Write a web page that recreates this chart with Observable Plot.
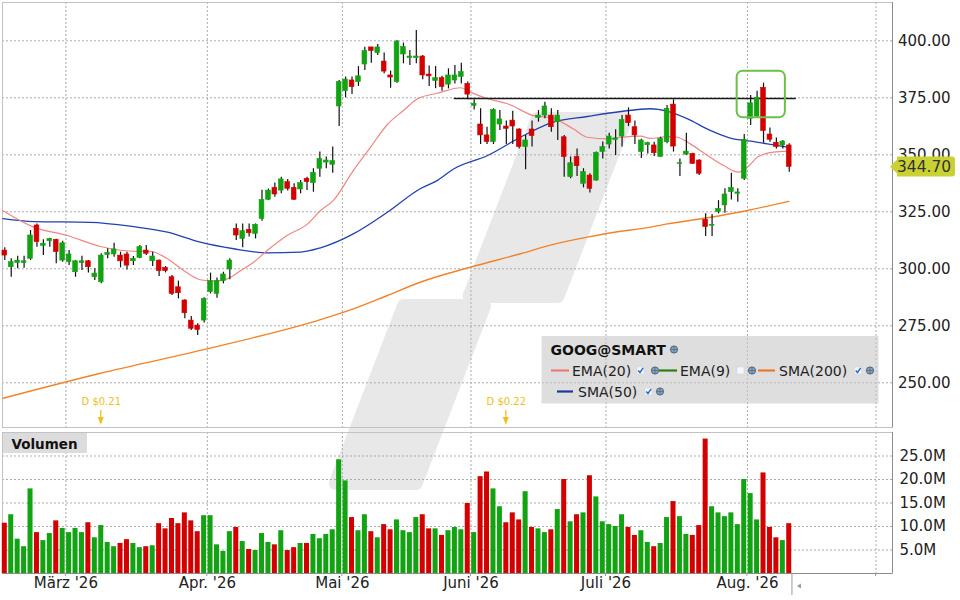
<!DOCTYPE html>
<html><head><meta charset="utf-8">
<script src="https://cdn.jsdelivr.net/npm/d3@7"></script>
<script src="https://cdn.jsdelivr.net/npm/@observablehq/plot@0.6"></script>
<style>
html,body{margin:0;padding:0;background:#fff;}
#wrap{position:relative;width:960px;height:600px;overflow:hidden;font-family:"DejaVu Sans",Verdana,sans-serif;}
#wrap > svg{position:absolute;left:0;}
</style></head><body><div id="wrap"></div>
<script>
// ---------- data ----------
const open = [308.0,300.7,302.5,302.5,304.4,319.0,310.1,312.1,312.7,303.6, 302.9,298.5,302.5,303.3,296.3,294.1,306.1,306.3,305.8,306.3, 303.3,304.8,308.0,303.3,303.6,300.4,296.3,291.9,286.1,277.3, 275.1,277.3,289.8,289.0,294.6,299.7,317.5,313.1,317.1,315.3, 321.9,330.3,335.5,334.3,338.0,335.5,334.8,339.5,337.6,343.9, 346.6,345.6,371.2,377.9,382.6,381.9,389.6,397.1,394.6,390.9, 384.8,381.9,394.0,392.4,392.4,393.1,385.2,382.3,383.6,380.8, 382.6,384.1,381.1,371.5,363.3,358.5,355.6,363.3,362.4,365.0, 361.1,353.4,361.1,366.2,367.2,367.2,364.3,357.7,340.2,349.0, 337.3,340.9,338.7,351.2,354.5,356.5,358.0,367.2,362.1,351.2, 354.2,354.1,349.0,355.5,372.0,346.0,350.1,350.4,347.5,321.5, 318.9,324.9,327.8,333.6,332.9,339.5,365.8,366.8,379.4,358.9, 355.3,354.1,354.1];
const high = [309.2,304.4,305.5,305.5,316.8,319.7,312.7,313.4,313.0,312.1, 308.0,303.6,305.5,303.6,300.0,306.6,308.8,311.2,307.3,307.3, 305.4,310.2,310.2,307.3,303.9,301.0,297.1,294.6,286.4,279.1, 275.9,287.3,298.1,296.0,298.5,304.4,319.7,319.7,319.7,319.7, 334.5,335.0,337.6,340.2,339.2,337.3,338.7,340.2,343.9,351.2, 349.0,353.4,382.6,384.1,384.1,388.7,397.2,397.2,398.4,394.6, 386.7,400.1,399.0,395.7,404.5,393.6,388.9,388.7,384.4,387.7, 389.2,390.2,381.9,374.1,370.2,362.1,370.2,369.4,364.8,369.1, 361.4,358.5,364.8,369.4,373.1,370.2,369.4,358.5,349.0,352.6, 343.9,341.7,351.2,355.6,359.5,361.0,367.2,370.6,364.8,356.8, 355.5,355.5,357.7,371.6,374.1,348.2,359.5,350.7,347.8,324.1, 323.8,329.9,335.1,341.9,335.1,358.9,376.0,377.9,381.4,361.8, 357.4,356.3,354.8];
const low = [303.6,296.3,300.0,300.3,303.6,309.5,305.8,309.5,302.2,302.9, 301.4,296.3,299.3,298.2,294.9,293.4,304.4,305.1,300.4,299.5, 301.4,304.4,305.8,301.0,296.6,298.2,288.3,286.8,278.1,272.9, 270.7,276.2,289.0,287.1,293.4,295.2,312.4,309.2,313.9,313.1, 320.9,329.9,331.4,332.9,334.1,330.0,332.9,334.4,333.6,340.2, 343.9,341.9,362.4,375.0,376.4,380.0,387.0,390.2,393.6,385.5, 379.2,381.4,389.9,389.2,389.9,382.9,380.0,379.0,377.9,378.9, 381.1,381.1,374.1,369.7,354.5,354.5,354.5,360.7,354.5,354.5, 352.6,343.4,353.4,364.3,365.8,359.9,356.3,340.2,339.5,340.5, 335.5,333.2,338.4,348.2,352.6,349.7,353.4,362.4,354.5,348.4, 350.4,349.3,349.0,354.8,351.2,340.5,349.7,345.7,340.9,314.2, 314.2,324.1,324.4,330.2,329.2,338.7,362.8,366.5,355.1,355.5, 352.6,352.6,342.4];
const close = [305.8,302.9,303.6,303.3,314.6,311.7,311.0,313.1,307.3,311.2, 306.3,303.3,303.3,300.7,297.9,305.8,307.0,308.5,303.3,301.4, 304.4,309.5,306.6,305.4,299.0,299.0,289.0,289.3,280.5,273.7, 273.2,286.8,294.6,294.6,297.5,303.6,314.6,316.5,315.6,319.3, 330.2,334.3,332.6,339.2,335.1,330.3,337.6,338.0,342.1,348.2, 347.5,347.2,381.9,383.0,379.7,384.4,395.5,395.5,397.1,386.5, 383.9,399.6,397.2,393.1,393.1,384.8,384.4,383.6,379.7,384.8, 384.8,386.3,376.4,372.4,358.5,355.6,369.7,365.5,361.4,362.4, 353.4,356.3,358.2,367.2,371.2,362.1,367.2,349.0,346.3,345.0, 342.4,335.1,350.9,353.4,358.0,357.2,365.3,363.9,358.5,356.3, 355.1,350.7,357.0,370.2,353.6,346.3,351.4,346.0,341.7,318.3, 319.3,326.3,332.6,335.5,333.5,356.6,372.6,375.0,360.4,356.6, 353.4,355.8,344.7];
const volumeM = [10.7,12.5,7.3,5.7,18.0,8.7,7.0,8.5,11.2,9.6, 8.7,9.6,8.7,10.8,7.6,10.2,6.6,5.7,6.4,7.2, 6.4,5.5,5.7,5.9,10.6,9.5,11.7,10.6,12.9,11.2, 8.9,12.3,12.3,6.1,4.7,8.9,9.8,6.8,5.1,4.9, 8.5,6.6,6.1,9.1,4.9,5.5,6.4,6.4,8.3,7.4, 8.3,9.3,24.2,19.7,11.9,9.1,12.5,8.9,7.6,10.4, 9.3,11.4,9.1,8.7,11.9,12.5,9.5,9.5,8.1,9.1, 9.8,9.3,14.9,8.7,20.6,21.6,18.0,14.2,10.8,12.9, 11.4,17.4,9.8,9.5,8.7,9.3,13.6,20.0,11.0,12.5, 12.9,20.8,16.3,11.0,10.4,10.0,12.5,9.8,8.1,9.1, 6.6,5.7,6.4,11.9,15.3,12.1,8.3,8.1,10.2,28.6, 14.2,12.9,12.1,12.9,10.4,20.0,17.0,11.4,21.4,9.8, 7.6,7.0,10.6];

// moving averages read at sample bar positions: [bar index, value]
const ema20 = [[-0.3,325.5],[4.5,318.3],[9.7,314.6],[14.9,309.8],[20,307.7],[22.7,307.6],[25.3,304.4],[27.8,299.3],[30.4,295.2],[32.5,294.6],[34.6,295.6],[36.7,299.3],[38.7,302.9],[40.8,308.0],[43.9,314.6],[47.1,319.7],[49.1,325.6],[51.1,330.0],[54.2,343.1],[56.9,353.4],[59.5,363.3],[62.0,369.4],[64.2,374.6],[67.3,377.0],[70.9,379.4],[72.4,377.5],[75.1,374.6],[78.2,372.4],[82.2,367.2],[85.3,366.0],[88.4,361.4],[90.6,357.7],[93.7,357.0],[95.8,357.7],[98.9,358.2],[100.4,357.2],[103.1,358.0],[104.6,357.7],[106.6,354.8],[109.3,349.7],[111.8,345.3],[114.1,342.4],[115.5,344.6],[117.1,349.0],[119.5,351.2],[121.9,351.6]];
const sma50 = [[-0.3,322.0],[4.5,320.7],[13.3,320.4],[20.0,318.5],[25.3,316.1],[30.4,311.7],[35.6,308.8],[40.8,307.0],[46.0,307.3],[49.1,309.2],[54.2,315.3],[59.5,324.8],[64.6,335.1],[67.3,338.8],[69.8,343.8],[75.1,349.7],[80.2,357.7],[85.3,364.3],[90.6,366.8],[95.8,369.0],[100.4,370.2],[103.1,369.1],[106.2,365.8],[109.7,360.7],[113.3,357.0],[116.0,356.0],[118.6,354.8],[121.9,353.3]];
const sma200 = [[-0.3,243.2],[14.9,254.2],[30.4,264.2],[49.1,277.7],[54.2,282.4],[59.5,288.3],[64.6,294.1],[72.4,300.7],[80.2,306.6],[85.3,310.7],[90.6,313.9],[95.8,316.5],[99.0,317.6],[103.1,319.7],[109.3,322.4],[115.5,325.6],[121.9,329.6]];

const priceTicks = [250, 275, 300, 325, 350, 375, 400];
const volumeTicks = [5, 10, 15, 20, 25];
const monthTickIndex = [9.5, 31.5, 52.5, 72.5, 93.5, 115.5, 135.5];
const monthTickLabels = ["März '26", "Apr. '26", "Mai '26", "Juni '26", "Juli '26", "Aug. '26", ""];
const dividendIndex = [15, 78];
const dividendLabels = ["D $0.21", "D $0.22"];
const resistanceLevel = 374.7, resistanceFrom = 69.9, resistanceTo = 123.1;
const highlightBox = {x1: 113.9, x2: 121.4, y1: 366.2, y2: 386.7};
const lastPrice = 344.70;

// ---------- build ----------
const GREEN = "#12a312", RED = "#d40000";
const candles = open.map((o, i) => ({i, open: o, high: high[i], low: low[i], close: close[i], vol: volumeM[i], up: close[i] >= o}));
const months = monthTickIndex.map((i, k) => ({i, label: monthTickLabels[k]}));
const dividends = dividendIndex.map((i, k) => ({i, label: dividendLabels[k]}));
const xDomain = [-0.358, 138.06];
const GRID = {stroke: "#ababab", strokeDasharray: "2,2", strokeWidth: 1};
const font = {fontFamily: "DejaVu Sans, Verdana, sans-serif", background: "transparent", overflow: "visible"};

const wrap = d3.select("#wrap");

// watermark (decorative, behind everything)
const wm = wrap.append("svg").attr("width", 960).attr("height", 600).style("top", "0px");
const wmStyle = g => g.attr("fill", "#e8e8e8").attr("stroke", "#e8e8e8").attr("stroke-width", 14).attr("stroke-linejoin", "round");
wm.append("polygon").attr("points", "537.8,119 625.8,119 557.6,296 469.6,296").call(wmStyle);
wm.append("polygon").attr("points", "404,306 484,306 415.8,483 335.8,483").call(wmStyle);

const priceChart = Plot.plot({
  width: 960, height: 428,
  marginLeft: 2, marginRight: 68, marginTop: 2, marginBottom: 1,
  style: font,
  color: {type: "identity"},
  x: {type: "linear", domain: xDomain, axis: null},
  y: {domain: [230.4, 416.8], axis: null},
  marks: [
    Plot.ruleX(monthTickIndex, GRID),
    Plot.ruleY(priceTicks, GRID),
    Plot.frame({stroke: "#c2c2c2"}),
    Plot.ruleX([xDomain[1]], {stroke: "#8c8c8c"}),
    Plot.text(priceTicks, {y: d => d, text: d => d.toFixed(2), frameAnchor: "right", textAnchor: "start", dx: 5.5, fill: "#222", fontSize: 15}),
    Plot.line(sma200, {x: d => d[0], y: d => d[1], stroke: "#f2832a", strokeWidth: 1.4, curve: "monotone-x"}),
    Plot.line(sma50, {x: d => d[0], y: d => d[1], stroke: "#2142b0", strokeWidth: 1.3, curve: "monotone-x"}),
    Plot.line(ema20, {x: d => d[0], y: d => d[1], stroke: "#f08585", strokeWidth: 1.2, curve: "monotone-x"}),
    Plot.ruleY([resistanceLevel], {x1: resistanceFrom, x2: resistanceTo, stroke: "#1a1a1a", strokeWidth: 1.3}),
    Plot.ruleX(candles, {x: "i", y1: "low", y2: "high", stroke: "#111", strokeWidth: 1.2}),
    Plot.rect(candles, {x1: d => d.i - 0.37, x2: d => d.i + 0.37, y1: "open", y2: "close",
      fill: d => d.up ? GREEN : RED, stroke: d => d.up ? GREEN : RED, strokeWidth: 0.6}),
    Plot.rect([highlightBox], {x1: "x1", x2: "x2", y1: "y1", y2: "y2", fill: "none", stroke: "#6ac04a", strokeWidth: 2, rx: 6}),
    Plot.text(dividends, {x: "i", text: "label", frameAnchor: "bottom", dy: -23, fill: "#f0c020", fontSize: 10})
  ]
});
d3.select(priceChart).style("position", "absolute").style("top", "0px").style("left", "0px");
wrap.node().appendChild(priceChart);

const volumeChart = Plot.plot({
  width: 960, height: 180,
  marginLeft: 2, marginRight: 68, marginTop: 12, marginBottom: 27,
  style: font,
  color: {type: "identity"},
  x: {type: "linear", domain: xDomain, axis: null},
  y: {domain: [0, 30], axis: null},
  marks: [
    Plot.ruleX(monthTickIndex, GRID),
    Plot.ruleY(volumeTicks, GRID),
    Plot.frame({stroke: "#c2c2c2"}),
    Plot.ruleX([xDomain[1]], {stroke: "#8c8c8c"}),
    Plot.ruleY([0], {stroke: "#8c8c8c"}),
    Plot.rect(candles, {x1: d => d.i - 0.39, x2: d => d.i + 0.39, y1: 0, y2: "vol", fill: d => d.up ? GREEN : RED}),
    Plot.text(volumeTicks, {y: d => d, text: d => d.toFixed(1) + "M", frameAnchor: "right", textAnchor: "start", dx: 7, fill: "#222", fontSize: 15}),
    Plot.text(months, {x: "i", text: "label", frameAnchor: "bottom", dy: 14.5, fill: "#222", fontSize: 15})
  ]
});
d3.select(volumeChart).style("position", "absolute").style("top", "420px").style("left", "0px");
wrap.node().appendChild(volumeChart);

// ---------- overlay: legend, price label, markers ----------
function scaleFn(chart, name) {
  const s = chart.scale(name);
  if (s && typeof s.apply === "function") return v => s.apply(v);
  return d3.scaleLinear(s.domain, s.range);
}
const X = scaleFn(priceChart, "x");
const Y = scaleFn(priceChart, "y");
const ov = wrap.append("svg").attr("width", 960).attr("height", 600).style("top", "0px")
  .style("font-family", "DejaVu Sans, Verdana, sans-serif");

// dividend arrows
dividends.forEach(d => {
  const x = X(d.i);
  ov.append("line").attr("x1", x).attr("x2", x).attr("y1", 410).attr("y2", 419).attr("stroke", "#f0c020").attr("stroke-width", 1.3);
  ov.append("path").attr("d", `M${x - 3},${417} L${x + 3},${417} L${x},${425} Z`).attr("fill", "#f0c020");
});

// "Volumen" box
ov.append("rect").attr("x", 3).attr("y", 433).attr("width", 84).attr("height", 20).attr("fill", "#dcdcdc");
ov.append("text").attr("x", 11.5).attr("y", 448.5).attr("font-size", 13.5).attr("font-weight", "bold").attr("fill", "#111").text("Volumen");

// last price tag
const yp = Y(lastPrice);
ov.append("path").attr("d", `M890,${yp} L897,${yp - 7} L897,${yp - 10} L952,${yp - 10} Q955,${yp - 10} 955,${yp - 7} L955,${yp + 7} Q955,${yp + 10} 952,${yp + 10} L897,${yp + 10} L897,${yp + 7} Z`).attr("fill", "#c9d232");
ov.append("text").attr("x", 897).attr("y", yp + 5.5).attr("font-size", 15.5).attr("fill", "#333").text(lastPrice.toFixed(2));

// "now" marker below the time axis
const xn = X(candles.length - 0.5);
ov.append("line").attr("x1", xn).attr("x2", xn).attr("y1", 573).attr("y2", 595).attr("stroke", "#999").attr("stroke-width", 1);
ov.append("path").attr("d", `M${xn + 5},586 L${xn + 9},583.5 L${xn + 9},588.5 Z`).attr("fill", "#999");
monthTickIndex.forEach(i => {
  ov.append("line").attr("x1", X(i)).attr("x2", X(i)).attr("y1", 573).attr("y2", 576).attr("stroke", "#999");
});

// legend
const lg = ov.append("g");
lg.append("rect").attr("x", 541.5).attr("y", 336).attr("width", 337).attr("height", 67.5).attr("fill", "rgba(200,200,200,0.6)");
lg.append("text").attr("x", 550.5).attr("y", 354.5).attr("font-size", 14).attr("font-weight", "bold").attr("fill", "#111").text("GOOG@SMART");
function globe(x, y) {
  lg.append("circle").attr("cx", x).attr("cy", y).attr("r", 3.6).attr("fill", "#8aa2ba").attr("stroke", "#3e5c7c").attr("stroke-width", 0.9);
  lg.append("path").attr("d", `M${x - 3.4},${y} L${x + 3.4},${y} M${x},${y - 3.4} L${x},${y + 3.4}`).attr("stroke", "#3e5c7c").attr("stroke-width", 0.6);
}
function check(x, y, on) {
  lg.append("rect").attr("x", x).attr("y", y - 3.5).attr("width", 7).attr("height", 7).attr("fill", "#f6f7fa").attr("stroke", "#cfd3dc").attr("stroke-width", 0.5);
  if (on) lg.append("path").attr("d", `M${x + 1.2},${y} L${x + 3},${y + 2} L${x + 6.2},${y - 2.6}`).attr("stroke", "#2a6ad2").attr("stroke-width", 1.5).attr("fill", "none");
}
function item(x0, y, color, label, lineLen, textX, checkX, on, globeX) {
  lg.append("line").attr("x1", x0).attr("x2", x0 + lineLen).attr("y1", y).attr("y2", y).attr("stroke", color).attr("stroke-width", 2.2);
  lg.append("text").attr("x", textX).attr("y", y + 5).attr("font-size", 14).attr("fill", "#222").text(label);
  check(checkX, y, on);
  globe(globeX, y);
}
globe(674, 349.5);
item(551, 370.5, "#e87a7a", "EMA(20)", 18, 572, 637, true, 655);
item(659, 370.5, "#2e7d12", "EMA(9)", 18, 680, 737, false, 752);
item(758, 370.5, "#e8792a", "SMA(200)", 17, 779, 854.5, true, 870);
item(557, 391.5, "#1a3a9a", "SMA(50)", 16, 578, 645, true, 660);
</script>
</body></html>
